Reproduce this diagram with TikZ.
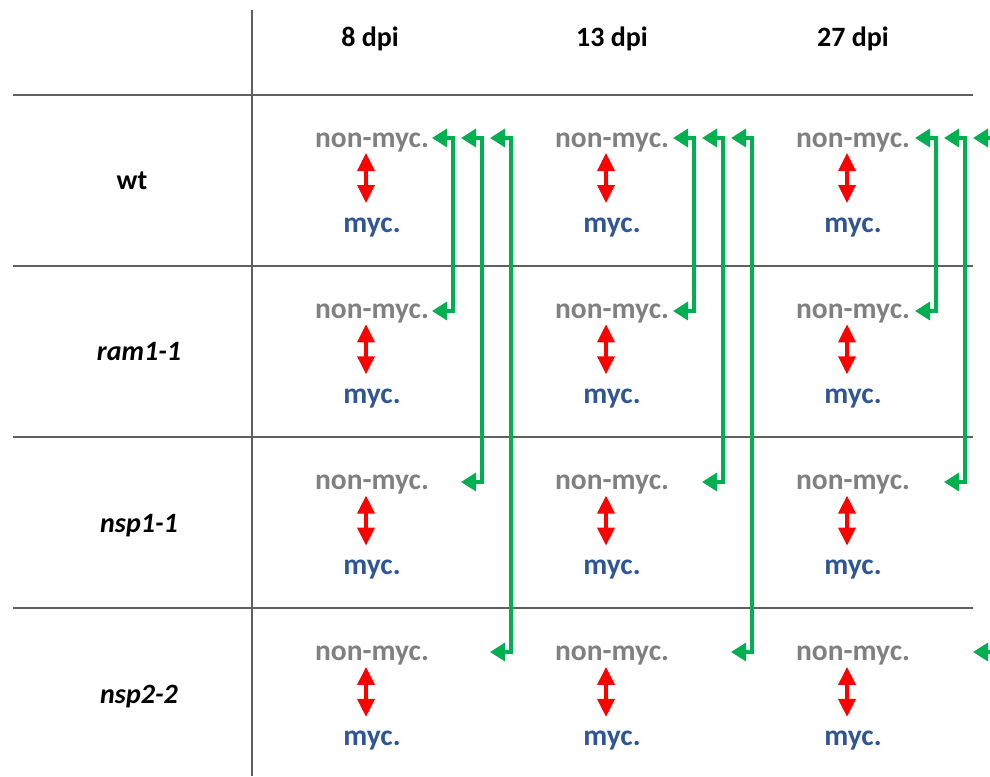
\documentclass[tikz,border=0pt]{standalone}
\usepackage{fontspec}
\setmainfont{Carlito}
\usetikzlibrary{arrows.meta}
\definecolor{gridgray}{HTML}{606060}
\definecolor{nmgray}{HTML}{808080}
\definecolor{mycblue}{HTML}{2F5597}
\definecolor{arrred}{HTML}{FF0000}
\definecolor{arrgreen}{HTML}{00B050}
\tikzset{
  gridline/.style={draw=gridgray,line width=1.8pt},
  hdr/.style={font=\fontsize{28}{30}\selectfont\bfseries,anchor=base,inner sep=0pt},
  rowlab/.style={font=\fontsize{28}{30}\selectfont\bfseries\itshape,anchor=base,inner sep=0pt},
  nonmyc/.style={text=nmgray,font=\fontsize{29.5}{31}\selectfont\bfseries,anchor=base,inner sep=0pt},
  mycl/.style={text=mycblue,font=\fontsize{29.5}{31}\selectfont\bfseries,anchor=base,inner sep=0pt},
  redarr/.style={draw=arrred,line width=3.4pt,{Triangle[length=18pt,width=17pt]}-{Triangle[length=18pt,width=17pt]}},
  grnarr/.style={draw=arrgreen,line width=3.4pt,{Triangle[length=15pt,width=18pt]}-{Triangle[length=15pt,width=18pt]}},
}
\begin{document}
\begin{tikzpicture}[x=1pt,y=-1pt]
\useasboundingbox (0,0) rectangle (990,776);
\clip (0,0) rectangle (990,776);
% grid
\draw[gridline] (252,10) -- (252,776);
\foreach \gy in {95,266,437,608}{\draw[gridline] (13,\gy) -- (973,\gy);}
% headers
\node[hdr] (h1) at (370,47) {8 dpi};
\node[hdr] (h2) at (612,47) {13 dpi};
\node[hdr] (h3) at (853,47) {27 dpi};
% row labels
\node[hdr] (r1) at (132,189) {wt};
\node[rowlab] (r2) at (139,360) {ram1-1};
\node[rowlab] (r3) at (139,532) {nsp1-1};
\node[rowlab] (r4) at (139,703) {nsp2-2};
% cells
\foreach \c/\cx in {1/372,2/612,3/853}{
  \foreach \r in {1,...,4}{
    \pgfmathsetmacro\nb{147+171.3*(\r-1)}
    \pgfmathsetmacro\mb{232+171.3*(\r-1)}
    \node[nonmyc] (nm-\r-\c) at (\cx,\nb) {non-myc.};
    \node[mycl] (m-\r-\c) at (\cx,\mb) {myc.};
    \coordinate (rt-\r-\c) at (\cx-6,\nb+6);
    \coordinate (rb-\r-\c) at (\cx-6,\mb-29);
    \draw[redarr] (rt-\r-\c) -- (rb-\r-\c);
  }
}
% green comparison arrows
\foreach \c/\lx in {1/453,2/694,3/936}{
  \foreach \k/\by in {1/311,2/482,3/652}{
    \pgfmathsetmacro\L{\lx+29*(\k-1)}
    \coordinate (gt-\k-\c) at (\L-21,138);
    \coordinate (gc-\k-\c) at (\L,\by);
    \coordinate (gb-\k-\c) at (\L-21,\by);
    \draw[grnarr] (gt-\k-\c) -| (gc-\k-\c) -- (gb-\k-\c);
  }
}
\end{tikzpicture}
\end{document}
